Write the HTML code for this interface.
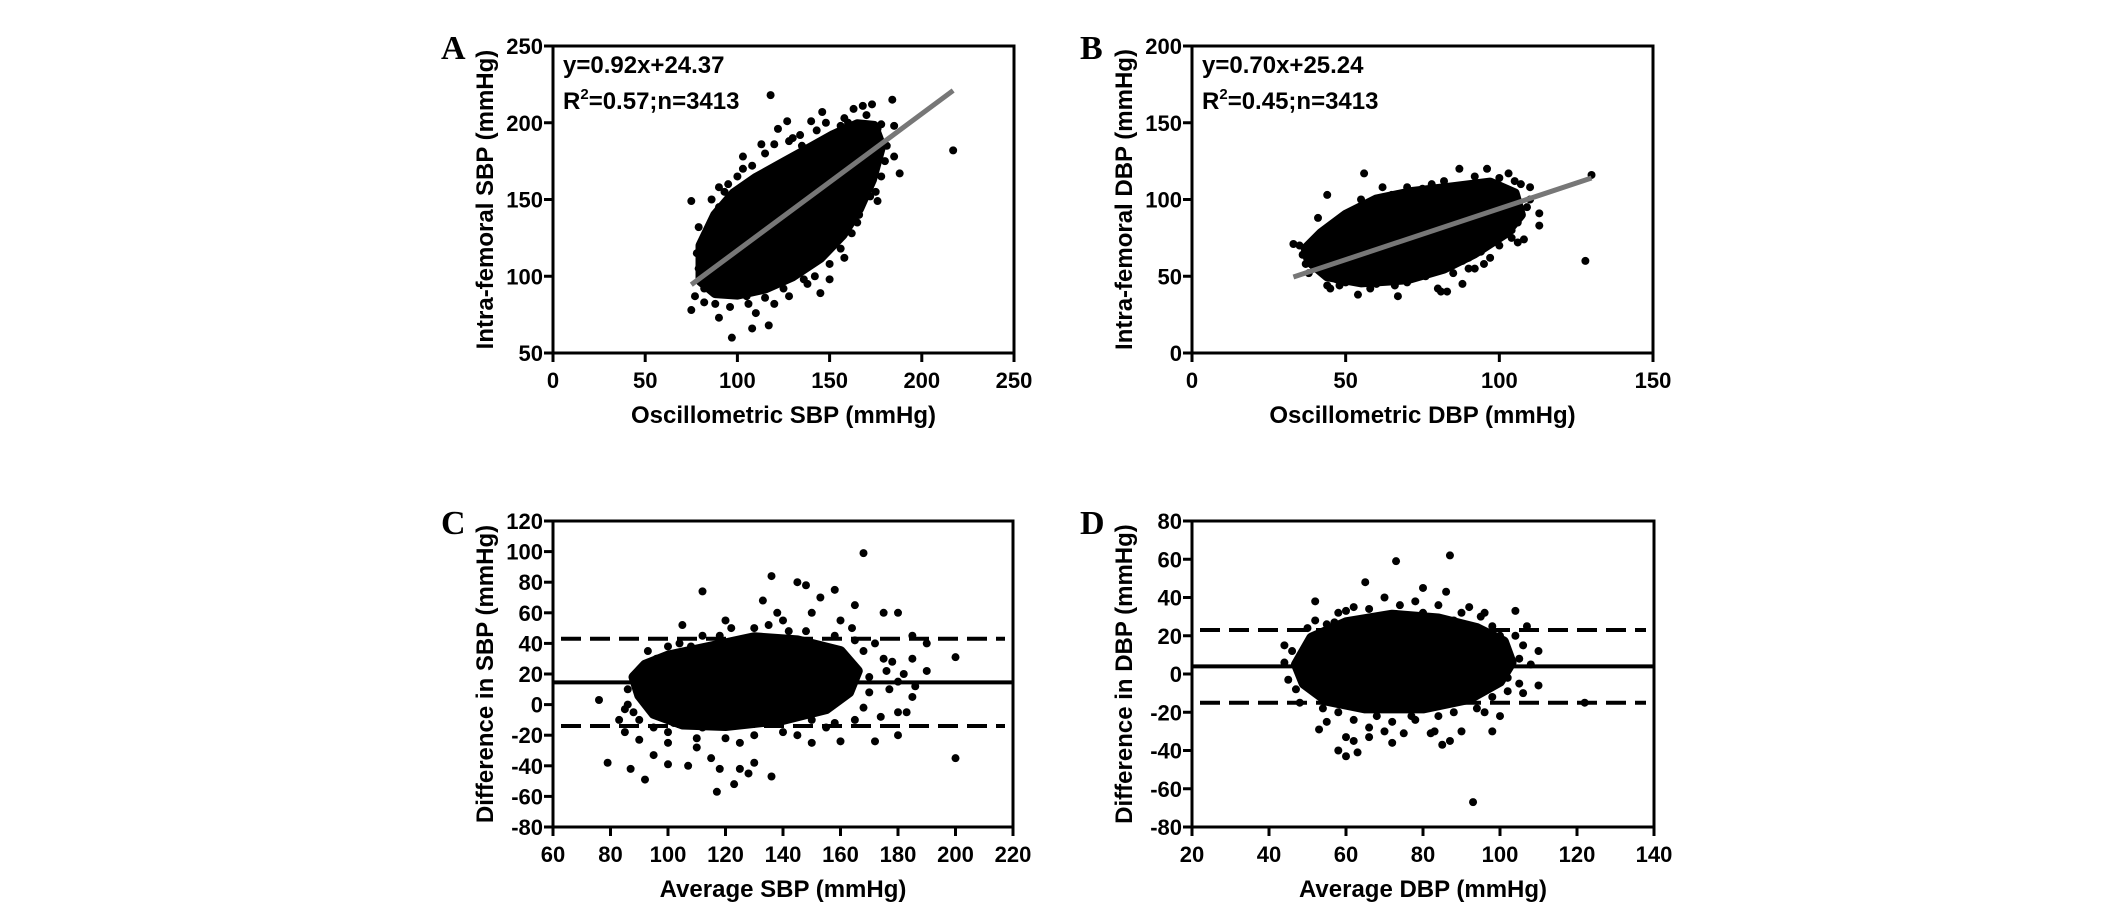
<!DOCTYPE html>
<html><head><meta charset="utf-8"><style>
html,body{margin:0;padding:0;background:#fff;}
svg{display:block;}
text{font-family:"Liberation Sans",Arial,sans-serif;font-weight:bold;fill:#000;}
.let{font-family:"Liberation Serif",serif;font-size:34px;}
</style></head><body>
<svg id="fig" width="2126" height="910" viewBox="0 0 2126 910" xmlns="http://www.w3.org/2000/svg"></svg>
<script>
// ---- Panel A data ----
const aCore = [[80,97],[88,89],[100,88],[115,92],[130,100],[145,112],[157,127],[166,144],[173,163],[178,185],[174,198],[165,199],[152,192],[140,184],[125,174],[110,164],[98,154],[88,140],[80,120]];
const aPts = [[75,149],[75,78],[77,87],[79,132],[82,83],[90,73],[97,60],[108,66],[117,68],[120,82],[95,160],[100,165],[103,178],[113,186],[118,218],[122,196],[127,201],[140,201],[146,207],[143,195],[156,198],[163,209],[168,211],[173,212],[178,199],[184,215],[185,198],[181,185],[185,178],[188,167],[217,182],[175,155],[170,160],[168,150],[160,140],[158,112],[145,89],[138,95],[150,98],[128,87],[110,76],[105,87],[90,158],[84,112],[80,112],[150,130],[155,125],[165,135],[176,149],[160,200],[170,190],[135,185],[130,190],[150,185],[86,150],[90,145],[93,155],[97,148],[103,170],[108,172],[115,180],[120,186],[128,188],[134,192],[148,200],[158,203],[170,205],[176,196],[180,175],[178,165],[172,152],[166,140],[162,128],[156,118],[150,108],[142,100],[136,98],[125,92],[115,86],[106,82],[96,80],[88,82],[82,92],[79,105],[78,115],[82,125],[125,97],[132,105],[145,118],[160,160],[168,185],[150,175]];
const aFit = [[75,94.5],[217,221]];
// ---- Panel B data ----
const bCore = [[38,60],[44,50],[55,46],[70,48],[82,55],[92,65],[102,78],[107,90],[105,104],[97,111],[85,108],[72,105],[60,100],[50,90],[42,78],[37,68]];
const bPts = [[33,71],[35,70],[37,58],[38,65],[41,88],[44,103],[44,44],[45,42],[54,38],[56,117],[55,100],[67,37],[70,46],[80,42],[81,40],[83,40],[88,45],[90,55],[87,120],[96,120],[103,117],[107,110],[110,108],[113,91],[113,83],[128,60],[130,116],[104,75],[100,70],[97,62],[92,55],[62,108],[75,107],[82,112],[48,44],[52,47],[60,45],[38,52],[42,60],[50,52],[46,84],[52,92],[58,96],[65,103],[70,108],[78,110],[92,115],[100,114],[105,112],[110,100],[109,95],[106,85],[104,80],[98,72],[94,66],[88,60],[85,52],[76,50],[66,44],[58,42],[50,46],[40,62],[36,64],[47,48],[95,58],[90,62],[108,74],[106,72]];
const bFit = [[33,49.5],[130,114]];
// ---- Panel C data ----
const cCore = [[88,18],[90,6],[95,-6],[105,-13],[120,-14],[140,-10],[155,-3],[163,8],[166,22],[160,35],[145,42],[130,44],[115,38],[100,32],[92,26]];
const cPts = [[76,3],[79,-38],[83,-10],[85,-18],[87,-42],[90,-23],[92,-49],[95,-33],[100,-25],[100,-39],[107,-40],[110,-28],[112,74],[115,-35],[117,-57],[118,-42],[123,-52],[125,-42],[128,-45],[130,-38],[136,-47],[136,84],[133,68],[138,60],[145,80],[148,78],[153,70],[158,75],[165,65],[168,99],[164,50],[175,60],[180,60],[185,45],[190,40],[200,31],[200,-35],[180,-20],[172,-24],[160,-24],[150,-25],[185,5],[183,-5],[177,10],[170,18],[175,30],[190,22],[185,30],[155,-15],[145,-20],[125,-25],[112,-15],[100,-18],[88,-5],[130,50],[140,55],[120,55],[105,52],[90,10],[85,-3],[168,35],[172,40],[178,28],[182,20],[186,12],[180,15],[176,22],[170,8],[168,-2],[174,-8],[180,-5],[165,-10],[158,-12],[150,-10],[140,-18],[130,-20],[120,-22],[110,-22],[102,-12],[95,-15],[90,-10],[86,0],[86,10],[90,22],[96,30],[104,40],[112,45],[122,50],[135,52],[148,48],[158,45],[165,42],[160,55],[150,60],[142,48],[118,45],[108,38],[100,38],[93,35]];
const cMean = [14.5]; const cLimits = [43,-14];
// ---- Panel D data ----
const dCore = [[47,5],[49,-5],[55,-14],[65,-18],[80,-18],[92,-13],[100,-4],[103,6],[101,17],[94,24],[84,29],[72,31],[60,27],[51,19]];
const dPts = [[44,15],[44,6],[45,-3],[48,-15],[52,38],[53,-29],[55,-25],[57,27],[58,-40],[60,-43],[60,-33],[62,-35],[63,-41],[65,48],[66,-33],[73,59],[72,-36],[75,-31],[77,-22],[80,45],[82,-31],[83,-30],[85,-37],[87,62],[86,43],[87,-35],[90,-30],[93,-67],[95,30],[96,32],[98,-30],[100,-22],[104,33],[106,15],[110,12],[110,-6],[122,-15],[102,-9],[105,-5],[107,25],[100,20],[92,35],[70,40],[62,35],[58,32],[46,12],[47,-8],[50,24],[52,28],[54,-18],[58,-20],[62,-24],[68,-22],[72,-25],[78,-24],[84,-22],[88,-20],[94,-18],[98,-12],[102,-2],[105,8],[104,20],[98,25],[90,32],[84,36],[78,38],[74,36],[66,34],[60,33],[55,26],[80,32],[88,28],[108,5],[106,-10],[96,-20],[66,-28],[70,-30]];
const dMean = [4]; const dLimits = [23,-15];
// ---- tick labels ----
const aXT=[0,50,100,150,200,250], aYT=[50,100,150,200,250];
const bXT=[0,50,100,150], bYT=[0,50,100,150,200];
const cXT=[60,80,100,120,140,160,180,200,220], cYT=[-80,-60,-40,-20,0,20,40,60,80,100,120];
const dXT=[20,40,60,80,100,120,140], dYT=[-80,-60,-40,-20,0,20,40,60,80];

const NS="http://www.w3.org/2000/svg", svg=document.getElementById('fig');
function mk(tag,attrs,parent){const e=document.createElementNS(NS,tag);for(const k in attrs)e.setAttribute(k,attrs[k]);(parent||svg).appendChild(e);return e;}

function panel(o){
  const g=mk('g',{});
  
  
  const sx=v=>o.x0+(v-o.xmin)/(o.xmax-o.xmin)*(o.x1-o.x0);
  const sy=v=>o.y1-(v-o.ymin)/(o.ymax-o.ymin)*(o.y1-o.y0);
  const core=mk('polygon',{points:o.core.map(p=>sx(p[0])+','+sy(p[1])).join(' '),fill:'#000',stroke:'#000','stroke-width':10,'stroke-linejoin':'round'},g);
  
  
  o.pts.forEach(p=>{
    const c=mk('circle',{cx:sx(p[0]),cy:sy(p[1]),r:4,fill:'#000'},g);
    
    
  });
  if(o.fit){
    const l=mk('line',{x1:sx(o.fit[0][0]),y1:sy(o.fit[0][1]),x2:sx(o.fit[1][0]),y2:sy(o.fit[1][1]),stroke:'#777','stroke-width':5},g);
    
    
  }
  if(o.mean){
    const l=mk('line',{x1:o.x0,x2:o.x1,y1:sy(o.mean[0]),y2:sy(o.mean[0]),stroke:'#000','stroke-width':4},g);
    
    
    o.lim.forEach(v=>{
      const d=mk('line',{x1:o.x0+8,x2:o.x1-8,y1:sy(v),y2:sy(v),stroke:'#000','stroke-width':4,'stroke-dasharray':'20 9'},g);
      
      
    });
  }
  const f=mk('rect',{x:o.x0,y:o.y0,width:o.x1-o.x0,height:o.y1-o.y0,fill:'none',stroke:'#000','stroke-width':3},g);
  
  
  o.xt.forEach(v=>{
    mk('line',{x1:sx(v),x2:sx(v),y1:o.y1,y2:o.y1+9,stroke:'#000','stroke-width':3},g);
    const t=mk('text',{x:sx(v),y:o.y1+35,'text-anchor':'middle','font-size':22},g);
    t.textContent=v;
    
    
  });
  o.yt.forEach(v=>{
    mk('line',{x1:o.x0-9,x2:o.x0,y1:sy(v),y2:sy(v),stroke:'#000','stroke-width':3},g);
    const t=mk('text',{x:o.x0-10,y:sy(v)+8,'text-anchor':'end','font-size':22},g);
    t.textContent=v;
    
    
  });
  const xt=mk('text',{x:(o.x0+o.x1)/2,y:o.y1+70,'text-anchor':'middle','font-size':24},g);
  xt.textContent=o.xlabel;
  
  
  const cy=(o.y0+o.y1)/2, cx=o.x0-60;
  const yt=mk('text',{x:cx,y:cy,'text-anchor':'middle','font-size':24,transform:`rotate(-90 ${cx} ${cy})`},g);
  yt.textContent=o.ylabel;
  
  
  const L=mk('text',{x:o.x0-112,y:o.y0+13,'class':'let'},g);
  L.textContent=o.letter;
  
  
  if(o.eq){
    const e1=mk('text',{x:o.x0+10,y:o.y0+27,'font-size':24},g);
    e1.textContent=o.eq;
    
    
    const e2=mk('text',{x:o.x0+10,y:o.y0+63,'font-size':24},g);
    
    
    e2.innerHTML='R<tspan dy="-10" font-size="15">2</tspan><tspan dy="10">'+o.r2+'</tspan>';
  }
}
panel({name:'panel-a',letter:'A',x0:553,x1:1014,y0:46,y1:353,xmin:0,xmax:250,ymin:50,ymax:250,core:aCore,pts:aPts,fit:aFit,xt:aXT,yt:aYT,xlabel:'Oscillometric SBP (mmHg)',ylabel:'Intra-femoral SBP (mmHg)',eq:'y=0.92x+24.37',r2:'=0.57;n=3413'});
panel({name:'panel-b',letter:'B',x0:1192,x1:1653,y0:46,y1:353,xmin:0,xmax:150,ymin:0,ymax:200,core:bCore,pts:bPts,fit:bFit,xt:bXT,yt:bYT,xlabel:'Oscillometric DBP (mmHg)',ylabel:'Intra-femoral DBP (mmHg)',eq:'y=0.70x+25.24',r2:'=0.45;n=3413'});
panel({name:'panel-c',letter:'C',x0:553,x1:1013,y0:521,y1:827,xmin:60,xmax:220,ymin:-80,ymax:120,core:cCore,pts:cPts,mean:cMean,lim:cLimits,xt:cXT,yt:cYT,xlabel:'Average SBP (mmHg)',ylabel:'Difference in SBP (mmHg)'});
panel({name:'panel-d',letter:'D',x0:1192,x1:1654,y0:521,y1:827,xmin:20,xmax:140,ymin:-80,ymax:80,core:dCore,pts:dPts,mean:dMean,lim:dLimits,xt:dXT,yt:dYT,xlabel:'Average DBP (mmHg)',ylabel:'Difference in DBP (mmHg)'});
</script>
</body></html>
